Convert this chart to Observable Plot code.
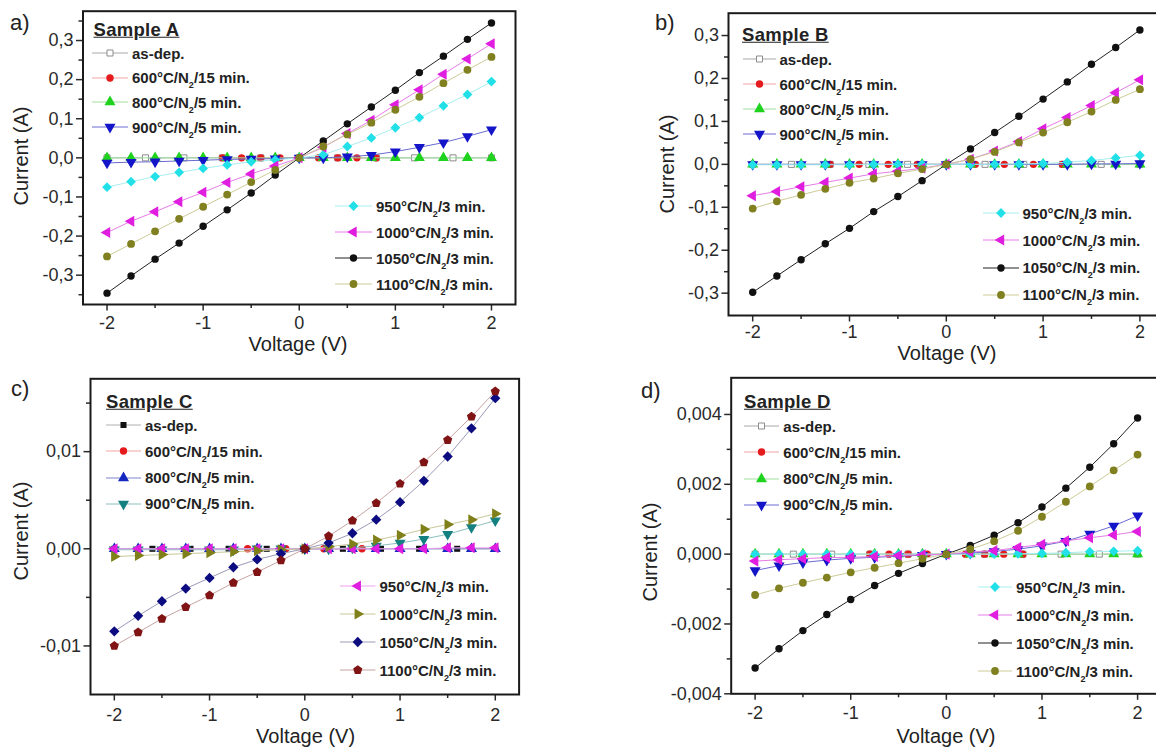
<!DOCTYPE html>
<html><head><meta charset="utf-8">
<script src="https://cdn.jsdelivr.net/npm/d3@7"></script>
<script src="https://cdn.jsdelivr.net/npm/@observablehq/plot@0.6"></script>
<style>
body{margin:0;background:#fff;font-family:"Liberation Sans",Arial,sans-serif;}
#root{position:relative;width:1156px;height:749px;overflow:hidden;background:#fff;}
.panel{position:absolute;}
.panel svg{max-width:none !important;display:block;}
.plbl{position:absolute;font-size:22px;color:#222;line-height:1;}
.leg{position:absolute;font-weight:bold;font-size:15px;color:#222;white-space:nowrap;display:flex;align-items:center;height:18px;line-height:1;}
.leg svg{display:block;margin-right:4px;}
.leg sub{font-size:9px;vertical-align:-5px;line-height:0;}
.stitle{position:absolute;font-weight:bold;font-size:18.5px;text-decoration:underline;color:#222;letter-spacing:0.3px;line-height:1;transform:translateY(-50%);}
.atitle{position:absolute;font-size:20px;color:#222;white-space:nowrap;line-height:1;}
</style></head><body><div id="root"></div><script>
// ---------------- DATA ----------------
const V = [-2,-1.75,-1.5,-1.25,-1,-0.75,-0.5,-0.25,0,0.25,0.5,0.75,1,1.25,1.5,1.75,2];
const V_asdep = [-2,-1.6,-1.2,-0.8,-0.4,0,0.4,0.8,1.2,1.6,2];
const V_600a = [-0.8,-0.6,-0.4,-0.2,0,0.2,0.4,0.6,0.8];
const V_600b = [-1.2,-0.9,-0.6,-0.3,0,0.3,0.6,0.9,1.2];
const V_600c = [-0.6,-0.2,0.2,0.6];
const V_600d = [-0.8,-0.6,-0.4,-0.2,0,0.2,0.4,0.6,0.8];

const seriesLabels = ["as-dep.","600°C/N2/15 min.","800°C/N2/5 min.","900°C/N2/5 min.","950°C/N2/3 min.","1000°C/N2/3 min.","1050°C/N2/3 min.","1100°C/N2/3 min."];
const sampleTitles = ["Sample A","Sample B","Sample C","Sample D"];
const panelLetters = ["a)","b)","c)","d)"];
const xTitle = "Voltage (V)";
const yTitle = "Current (A)";
const xTicks = [-2,-1,0,1,2];
const xMinorTicks = [-1.5,-0.5,0.5,1.5];

// Sample A (A)
const A_asdep = [0,0,0,0,0,0,0,0,0,0,0];
const A_600 = [0,0,0,0,0,0,0,0,0];
const A_800 = [0,0,0,0,0,0,0,0,0,0,0,0,0,0,0,0,0];
const A_900 = [-0.013,-0.011,-0.010,-0.008,-0.006,-0.004,-0.003,-0.002,0,0.000,0.003,0.007,0.016,0.027,0.039,0.055,0.072];
const A_950 = [-0.075,-0.061,-0.048,-0.037,-0.027,-0.018,-0.010,-0.005,0,0.008,0.029,0.051,0.077,0.103,0.133,0.162,0.195];
const A_1000 = [-0.191,-0.162,-0.138,-0.112,-0.088,-0.063,-0.041,-0.021,0,0.027,0.062,0.096,0.136,0.174,0.214,0.253,0.292];
const A_1050 = [-0.346,-0.302,-0.259,-0.218,-0.175,-0.133,-0.090,-0.044,0,0.043,0.087,0.130,0.173,0.218,0.260,0.303,0.345];
const A_1100 = [-0.252,-0.220,-0.188,-0.156,-0.125,-0.094,-0.062,-0.031,0,0.029,0.060,0.090,0.123,0.156,0.191,0.225,0.258];
const A_yTicks = [-0.3,-0.2,-0.1,0,0.1,0.2,0.3];

// Sample B (A)
const B_asdep = [0,0,0,0,0,0,0,0,0,0,0];
const B_600 = [0,0,0,0,0,0,0,0,0];
const B_800 = [0,0,0,0,0,0,0,0,0,0,0,0,0,0,0,0,0];
const B_900 = [0,0,0,0,0,0,0,0,0,0,0,0,0,0,0.001,0.001,0.002];
const B_950 = [-0.001,-0.001,-0.001,-0.001,-0.001,0,0,0,0,0,0,0.001,0.002,0.005,0.009,0.015,0.021];
const B_1000 = [-0.073,-0.063,-0.052,-0.042,-0.032,-0.022,-0.016,-0.009,0,0.012,0.031,0.053,0.083,0.109,0.137,0.167,0.197];
const B_1050 = [-0.298,-0.260,-0.222,-0.185,-0.149,-0.110,-0.075,-0.038,0,0.036,0.074,0.112,0.152,0.192,0.233,0.272,0.313];
const B_1100 = [-0.103,-0.086,-0.071,-0.057,-0.043,-0.033,-0.021,-0.011,0,0.012,0.029,0.051,0.074,0.098,0.123,0.150,0.175];
const B_yTicks = [-0.3,-0.2,-0.1,0,0.1,0.2,0.3];

// Sample C (A)
const C_asdep = [0,0,0,0,0,0,0,0,0,0,0];
const C_600 = [0,0,0,0];
const C_800 = [0,0,0,0,0,0,0,0,0,0,0,0,0,0,0,0,0];
const C_900 = [-0.0001,-0.0001,-0.0001,-0.0001,-0.0001,-0.0001,0,0,0,0,0.0001,0.0003,0.0006,0.0010,0.0015,0.0022,0.0029];
const C_950 = [0,0,0,0,0,0,0,0,0,0,0,0,0,0,0.0001,0.0001,0.0001];
const C_1000 = [-0.0008,-0.0007,-0.0006,-0.0005,-0.0004,-0.0003,-0.0002,-0.0001,0,0.0002,0.0005,0.0009,0.0014,0.0020,0.0025,0.0030,0.0036];
const C_1050 = [-0.0085,-0.0069,-0.0054,-0.0041,-0.0030,-0.0019,-0.0011,-0.0005,0,0.0006,0.0016,0.0030,0.0048,0.0070,0.0095,0.0124,0.0155];
const C_1100 = [-0.0100,-0.0086,-0.0072,-0.0060,-0.0048,-0.0035,-0.0024,-0.0012,0,0.0013,0.0029,0.0047,0.0067,0.0089,0.0112,0.0136,0.0162];
const C_yTicks = [-0.01,0,0.01];

// Sample D (A)
const D_asdep = [0,0,0,0,0,0,0,0,0,0,0];
const D_600 = [0,0,0,0,0,0,0,0,0];
const D_800 = [0,0,0,0,0,0,0,0,0,0,0,0,0,0,0,0,0];
const D_900 = [-0.00047,-0.00033,-0.00024,-0.00017,-0.00012,-0.00009,-0.00006,-0.00003,0,0.00003,0.00008,0.00014,0.00024,0.00037,0.00058,0.00081,0.00110];
const D_950 = [0,0,0,0,0,0,0,0,0,0,0,0.00001,0.00002,0.00004,0.00007,0.00008,0.00010];
const D_1000 = [-0.00020,-0.00016,-0.00013,-0.00010,-0.00009,-0.00007,-0.00004,-0.00002,0,0.00006,0.00010,0.00019,0.00028,0.00038,0.00047,0.00055,0.00065];
const D_1050 = [-0.00326,-0.00271,-0.00219,-0.00173,-0.00130,-0.00090,-0.00055,-0.00027,0,0.00025,0.00054,0.00090,0.00135,0.00189,0.00249,0.00316,0.00390];
const D_1100 = [-0.00117,-0.00098,-0.00082,-0.00067,-0.00052,-0.00039,-0.00026,-0.00013,0,0.00014,0.00037,0.00067,0.00107,0.00150,0.00194,0.00240,0.00285];
const D_yTicks = [-0.004,-0.002,0,0.002,0.004];

// ---------------- SYMBOLS ----------------
function tri(deg){ return {draw(ctx,size){ const r=Math.sqrt(size/1.299); for(let i=0;i<3;i++){const a=(deg-90)*Math.PI/180+i*2*Math.PI/3; const x=r*Math.cos(a), y=r*Math.sin(a); i?ctx.lineTo(x,y):ctx.moveTo(x,y);} ctx.closePath(); }}; }
const pentagon = {draw(ctx,size){ const r=Math.sqrt(size/2.378); for(let i=0;i<5;i++){const a=-Math.PI/2+i*2*Math.PI/5; const x=r*Math.cos(a), y=r*Math.sin(a); i?ctx.lineTo(x,y):ctx.moveTo(x,y);} ctx.closePath(); }};
const diamond = {draw(ctx,size){ const r=Math.sqrt(size/2); ctx.moveTo(0,-r); ctx.lineTo(r,0); ctx.lineTo(0,r); ctx.lineTo(-r,0); ctx.closePath(); }};
const square = {draw(ctx,size){ const s=Math.sqrt(size)/2; ctx.moveTo(-s,-s); ctx.lineTo(s,-s); ctx.lineTo(s,s); ctx.lineTo(-s,s); ctx.closePath(); }};
const circle = d3.symbolCircle;

const stylesABD = [
  {sym: square, fill: "#ffffff", stroke: "#8c8c8c", line: "#a8a8a8", r: 3.4},
  {sym: circle, fill: "#e41a1c", stroke: "none", line: "#f1a3a3", r: 3.7},
  {sym: tri(0), fill: "#1ed21e", stroke: "none", line: "#9fdf9f", r: 4.1},
  {sym: tri(180), fill: "#1414c8", stroke: "none", line: "#6a6ad2", r: 4.1},
  {sym: diamond, fill: "#22e0e8", stroke: "none", line: "#a8eef0", r: 3.9},
  {sym: tri(-90), fill: "#e01ee0", stroke: "none", line: "#e67de6", r: 4.1},
  {sym: circle, fill: "#111111", stroke: "none", line: "#222222", r: 3.7},
  {sym: circle, fill: "#808020", stroke: "none", line: "#cdcc98", r: 3.9}
];
const stylesC = [
  {sym: square, fill: "#111111", stroke: "none", line: "#b0b0b0", r: 3.4},
  {sym: circle, fill: "#e41a1c", stroke: "none", line: "#f1a3a3", r: 3.7},
  {sym: tri(0), fill: "#1428c0", stroke: "none", line: "#7a84cc", r: 4.1},
  {sym: tri(180), fill: "#148080", stroke: "none", line: "#8cc0c0", r: 4.1},
  {sym: tri(-90), fill: "#e01ee0", stroke: "none", line: "#eca0ec", r: 4.1},
  {sym: tri(90), fill: "#80801a", stroke: "none", line: "#c8c898", r: 4.1},
  {sym: diamond, fill: "#0c0c80", stroke: "none", line: "#9a9ab8", r: 4.1},
  {sym: pentagon, fill: "#801414", stroke: "none", line: "#c8a4a4", r: 4.2}
];

const loc = d3.formatLocale({decimal: ",", thousands: " ", grouping: [3], currency: ["", ""], minus: "-"});

// ---------------- PANELS (layout) ----------------
const panels = [
  {i: 0, xs: [V_asdep,V_600a,V,V,V,V,V,V], ys: [A_asdep,A_600,A_800,A_900,A_950,A_1000,A_1050,A_1100], styles: stylesABD,
   ydom: [-0.375,0.375], yt: A_yTicks, ym: [-0.35,-0.25,-0.15,-0.05,0.05,0.15,0.25,0.35], fmt: ".1f",
   box: {left:0, top:0, w:580, h:370, ml:82.5, mt:10.7, mr:65, mb:66}, xpad: 5,
   lbl: [10, 12], title: [93.5, 30], ytc: [20.5, 155.5], xtc: [298, 344],
   top: [92, 53, 24.7, 36], bot: [335, 206, 26, 37]},
  {i: 1, xs: [V_asdep,V_600b,V,V,V,V,V,V], ys: [B_asdep,B_600,B_800,B_900,B_950,B_1000,B_1050,B_1100], styles: stylesABD,
   ydom: [-0.352,0.352], yt: B_yTicks, ym: [-0.25,-0.15,-0.05,0.05,0.15,0.25], fmt: ".1f",
   box: {left:580, top:0, w:600, h:370, ml:148, mt:12.7, mr:16.4, mb:55}, xpad: 3.5,
   lbl: [655, 12], title: [742, 35], ytc: [667, 164], xtc: [947, 352.5],
   top: [742.5, 59, 25, 33], bot: [982.5, 213, 27.3, 36]},
  {i: 2, xs: [V_asdep,V_600c,V,V,V,V,V,V], ys: [C_asdep,C_600,C_800,C_900,C_950,C_1000,C_1050,C_1100], styles: stylesC,
   ydom: [-0.015,0.0175], yt: C_yTicks, ym: [-0.005,0.005,0.015], fmt: ".2f",
   box: {left:0, top:370, w:580, h:379, ml:90, mt:8.3, mr:61.4, mb:55}, xpad: 7,
   lbl: [11, 378], title: [106, 401.7], ytc: [20.5, 531], xtc: [305.6, 736],
   top: [106, 425, 26.3, 35], bot: [340, 586, 28, 35.5]},
  {i: 3, xs: [V_asdep,V_600d,V,V,V,V,V,V], ys: [D_asdep,D_600,D_800,D_900,D_950,D_1000,D_1050,D_1100], styles: stylesABD,
   ydom: [-0.004,0.00505], yt: D_yTicks, ym: [-0.003,-0.001,0.001,0.003], fmt: ".3f",
   box: {left:580, top:370, w:600, h:379, ml:150.7, mt:7.3, mr:19, mb:55.7}, xpad: 6,
   lbl: [641, 380], title: [744, 402], ytc: [650, 552], xtc: [946, 736],
   top: [744.3, 426, 26.3, 35], bot: [978, 587, 28, 34]}
];

const root = document.getElementById("root");
function symPath(sym, r){ return d3.symbol(sym, Math.PI*r*r)(); }
function add(cls, text, css){ const d=document.createElement("div"); d.className=cls; d.textContent=text; Object.assign(d.style, css); root.appendChild(d); return d; }

function legendRow(st, label, x, y, len){
  const d = document.createElement("div");
  d.className = "leg";
  d.style.left = x + "px"; d.style.top = (y - 9) + "px";
  const w = len, h = 18;
  d.innerHTML = `<svg width="${w}" height="${h}"><line x1="0" x2="${w}" y1="9" y2="9" stroke="${st.line}" stroke-width="1"/>` +
    `<path transform="translate(${w/2},9)" d="${symPath(st.sym, st.r)}" fill="${st.fill}" stroke="${st.stroke}" stroke-width="1"/></svg>` +
    `<span>${label.replace("N2", "N<sub>2</sub>")}</span>`;
  root.appendChild(d);
}

panels.forEach(p => {
  const b = p.box;
  const marks = [];
  p.ys.forEach((ys, i) => {
    const st = p.styles[i];
    const rows = p.xs[i].map((x, j) => ({x, y: ys[j]}));
    marks.push(Plot.line(rows, {x: "x", y: "y", stroke: st.line, strokeWidth: 1}));
    marks.push(Plot.dot(rows, {x: "x", y: "y", symbol: st.sym, r: st.r, fill: st.fill, stroke: st.stroke, strokeWidth: 1}));
  });
  const f = loc.format(p.fmt);
  const fx = loc.format("d");
  marks.push(
    Plot.axisY(p.yt, {tickSize: 6.5, tickPadding: 3, tickFormat: f, strokeWidth: 1.5, fontSize: 18, label: null}),
    Plot.axisY(p.ym, {tickSize: 4, tickFormat: () => "", strokeWidth: 1.5, label: null}),
    Plot.axisX(xTicks, {tickSize: 6.5, tickPadding: p.xpad, tickFormat: fx, strokeWidth: 1.5, fontSize: 18, label: null}),
    Plot.axisX(xMinorTicks, {tickSize: 4, tickFormat: () => "", strokeWidth: 1.5, label: null}),
    Plot.frame({stroke: "#1a1a1a", strokeWidth: 2})
  );
  const svg = Plot.plot({
    width: b.w, height: b.h,
    marginLeft: b.ml, marginTop: b.mt, marginRight: b.mr, marginBottom: b.mb,
    x: {domain: [-2.25, 2.25]},
    y: {domain: p.ydom},
    style: {fontFamily: "'Liberation Sans', Arial, sans-serif", color: "#2a2a2a", background: "transparent", overflow: "visible", maxWidth: "none"},
    marks
  });
  svg.style.maxWidth = "none";
  svg.style.width = b.w + "px";
  svg.style.height = b.h + "px";
  const holder = document.createElement("div");
  holder.className = "panel";
  holder.style.left = b.left + "px"; holder.style.top = b.top + "px";
  holder.style.width = b.w + "px"; holder.style.height = b.h + "px";
  holder.appendChild(svg);
  root.appendChild(holder);

  add("plbl", panelLetters[p.i], {left: p.lbl[0] + "px", top: p.lbl[1] + "px"});
  add("stitle", sampleTitles[p.i], {left: p.title[0] + "px", top: p.title[1] + "px"});
  add("atitle", xTitle, {left: p.xtc[0] + "px", top: p.xtc[1] + "px", transform: "translate(-50%,-50%)"});
  add("atitle", yTitle, {left: p.ytc[0] + "px", top: p.ytc[1] + "px", transform: "translate(-50%,-50%) rotate(-90deg)"});

  for (let i = 0; i < 4; i++) legendRow(p.styles[i], seriesLabels[i], p.top[0], p.top[1] + i * p.top[2], p.top[3]);
  for (let i = 4; i < 8; i++) legendRow(p.styles[i], seriesLabels[i], p.bot[0], p.bot[1] + (i - 4) * p.bot[2], p.bot[3]);
});
</script></body></html>
